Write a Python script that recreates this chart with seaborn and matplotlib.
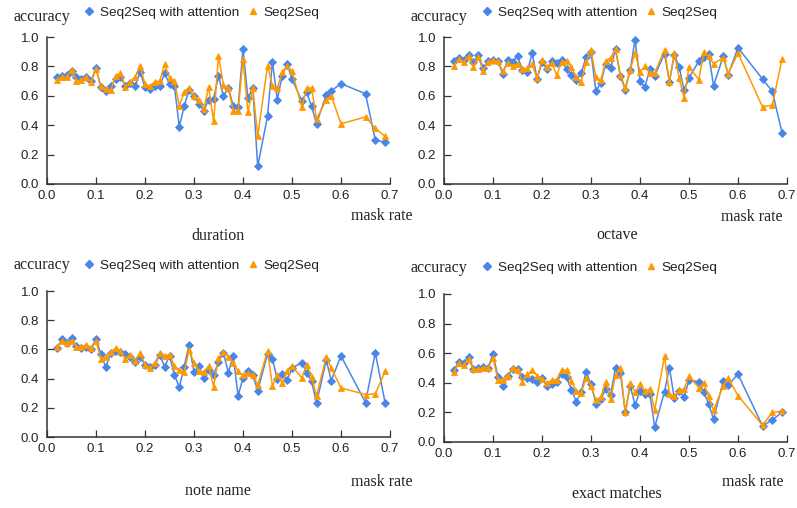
import matplotlib
matplotlib.use("Agg")
import matplotlib.pyplot as plt
from matplotlib.lines import Line2D
from matplotlib.ticker import FormatStrFormatter
import seaborn as sns
import pandas as pd

# ---------------- data ----------------
mask_rate = [0.02, 0.03, 0.04, 0.05, 0.06, 0.07, 0.08, 0.09, 0.10,
             0.11, 0.12, 0.13, 0.14, 0.15, 0.16, 0.17, 0.18, 0.19, 0.20,
             0.21, 0.22, 0.23, 0.24, 0.25, 0.26, 0.27, 0.28, 0.29, 0.30,
             0.31, 0.32, 0.33, 0.34, 0.35, 0.36, 0.37, 0.38, 0.39, 0.40,
             0.41, 0.42, 0.43,
             0.45, 0.46, 0.47, 0.48, 0.49, 0.50,
             0.52, 0.53, 0.54, 0.55,
             0.57, 0.58, 0.60, 0.65, 0.67, 0.69]

series_names = ["Seq2Seq with attention", "Seq2Seq"]
panel_titles = ["duration", "octave", "note name", "exact matches"]

duration_att = [0.728, 0.737, 0.74, 0.77, 0.728, 0.714, 0.728, 0.70, 0.787,
                0.66, 0.63, 0.665, 0.714, 0.73, 0.665, 0.69, 0.67, 0.76, 0.66,
                0.646, 0.665, 0.665, 0.755, 0.678, 0.665, 0.39, 0.53, 0.64, 0.60,
                0.545, 0.50, 0.574, 0.58, 0.737, 0.596, 0.655, 0.533, 0.524, 0.918,
                0.587, 0.653, 0.12,
                0.46, 0.832, 0.574, 0.737, 0.819, 0.714,
                0.565, 0.624, 0.528, 0.41,
                0.608, 0.633, 0.683, 0.614, 0.30, 0.283]
duration_s2s = [0.71, 0.728, 0.728, 0.777, 0.698, 0.71, 0.728, 0.694, 0.78,
                0.665, 0.646, 0.637, 0.737, 0.755, 0.66, 0.696, 0.728, 0.80, 0.68,
                0.665, 0.696, 0.70, 0.814, 0.723, 0.70, 0.533, 0.624, 0.65, 0.596,
                0.574, 0.51, 0.66, 0.426, 0.873, 0.673, 0.653, 0.497, 0.494, 0.85,
                0.488, 0.653, 0.324,
                0.805, 0.669, 0.653, 0.76, 0.80, 0.766,
                0.524, 0.653, 0.653, 0.442,
                0.574, 0.60, 0.41, 0.456, 0.379, 0.324]

octave_att = [0.834, 0.857, 0.846, 0.878, 0.828, 0.878, 0.787, 0.837, 0.841,
              0.837, 0.748, 0.846, 0.832, 0.868, 0.778, 0.764, 0.891, 0.714, 0.828,
              0.782, 0.837, 0.823, 0.841, 0.782, 0.741, 0.705, 0.755, 0.864, 0.896,
              0.633, 0.687, 0.816, 0.787, 0.918, 0.732, 0.642, 0.773, 0.982, 0.70,
              0.66, 0.782, 0.737,
              0.887, 0.696, 0.878, 0.796, 0.637, 0.723,
              0.834, 0.864, 0.887, 0.669,
              0.869, 0.744, 0.927, 0.714, 0.63, 0.347]
octave_s2s = [0.805, 0.85, 0.832, 0.868, 0.796, 0.864, 0.769, 0.832, 0.841,
              0.837, 0.766, 0.823, 0.805, 0.814, 0.782, 0.787, 0.814, 0.719, 0.846,
              0.796, 0.823, 0.741, 0.828, 0.834, 0.796, 0.728, 0.696, 0.828, 0.909,
              0.728, 0.705, 0.837, 0.859, 0.918, 0.744, 0.653, 0.778, 0.891, 0.764,
              0.80, 0.755, 0.755,
              0.914, 0.696, 0.891, 0.719, 0.583, 0.796,
              0.71, 0.896, 0.869, 0.819,
              0.859, 0.751, 0.891, 0.524, 0.537, 0.85]

note_att = [0.609, 0.668, 0.645, 0.677, 0.623, 0.609, 0.614, 0.605, 0.673,
            0.568, 0.477, 0.577, 0.591, 0.582, 0.568, 0.545, 0.514, 0.55, 0.491,
            0.477, 0.491, 0.564, 0.482, 0.555, 0.427, 0.341, 0.482, 0.632, 0.445,
            0.486, 0.405, 0.459, 0.427, 0.514, 0.577, 0.441, 0.555, 0.282, 0.405,
            0.45, 0.423, 0.318,
            0.568, 0.536, 0.395, 0.432, 0.391, 0.473,
            0.509, 0.441, 0.382, 0.232,
            0.527, 0.386, 0.555, 0.236, 0.577, 0.236]
note_s2s = [0.614, 0.659, 0.645, 0.659, 0.618, 0.614, 0.632, 0.609, 0.655,
            0.536, 0.55, 0.582, 0.609, 0.591, 0.536, 0.564, 0.523, 0.577, 0.495,
            0.473, 0.505, 0.573, 0.555, 0.564, 0.486, 0.459, 0.445, 0.595, 0.509,
            0.45, 0.445, 0.486, 0.345, 0.541, 0.582, 0.55, 0.505, 0.45, 0.423,
            0.436, 0.427, 0.355,
            0.591, 0.35, 0.423, 0.368, 0.45, 0.486,
            0.405, 0.495, 0.409, 0.282,
            0.55, 0.473, 0.336, 0.291, 0.295, 0.45]

exact_att = [0.485, 0.54, 0.531, 0.576, 0.494, 0.499, 0.508, 0.503, 0.594,
             0.44, 0.381, 0.444, 0.494, 0.49, 0.44, 0.435, 0.426, 0.408, 0.435,
             0.376, 0.39, 0.408, 0.458, 0.44, 0.354, 0.272, 0.34, 0.472, 0.39,
             0.259, 0.29, 0.358, 0.317, 0.503, 0.463, 0.20, 0.381, 0.249, 0.345,
             0.327, 0.327, 0.10,
             0.34, 0.503, 0.295, 0.345, 0.304, 0.417,
             0.408, 0.336, 0.259, 0.154,
             0.413, 0.385, 0.458, 0.109, 0.15, 0.20]
exact_s2s = [0.472, 0.531, 0.517, 0.558, 0.49, 0.49, 0.503, 0.503, 0.567,
             0.422, 0.422, 0.449, 0.503, 0.485, 0.408, 0.458, 0.485, 0.449, 0.426,
             0.399, 0.417, 0.422, 0.485, 0.485, 0.413, 0.345, 0.331, 0.435, 0.381,
             0.281, 0.304, 0.408, 0.29, 0.453, 0.499, 0.20, 0.399, 0.336, 0.39,
             0.345, 0.358, 0.218,
             0.58, 0.327, 0.313, 0.349, 0.358, 0.444,
             0.367, 0.399, 0.308, 0.213,
             0.381, 0.431, 0.313, 0.113, 0.20, 0.209]

x_ticks = [0.0, 0.1, 0.2, 0.3, 0.4, 0.5, 0.6, 0.7]
y_ticks = [0.0, 0.2, 0.4, 0.6, 0.8, 1.0]

# ---------------- style ----------------
sns.set_theme(style="ticks")
plt.rcParams["font.family"] = ["Liberation Sans", "DejaVu Sans"]
SERIF = ["Liberation Serif", "DejaVu Serif"]
BLUE = "#4a86e8"
ORANGE = "#ff9900"
AXCOL = "#333333"

W, H = 797, 508
fig = plt.figure(figsize=(W / 100, H / 100), dpi=100)


def fx(px):
    return px / W


def fy(py):
    return 1 - py / H


# panel boxes in pixels: left, right, top, bottom
boxes = [(47, 390, 37, 184), (444, 787, 37, 184),
         (47, 390, 291, 437), (444, 787, 294, 442)]
acc_pos = [(41.5, 17), (438.5, 17), (41.5, 265), (438.5, 268)]
mask_pos = [(381.5, 216), (752, 217), (381.5, 482), (752.5, 482)]
title_pos = [(218, 236), (617, 235), (218, 491), (617, 494)]
legend_pos = [(83.5, 13), (481.5, 13), (83.5, 266), (481.5, 268)]

panel_data = [(duration_att, duration_s2s), (octave_att, octave_s2s),
              (note_att, note_s2s), (exact_att, exact_s2s)]

for i, (att, s2s) in enumerate(panel_data):
    l, r, t, b = boxes[i]
    ax = fig.add_axes([fx(l), fy(b), fx(r) - fx(l), fy(t) - fy(b)])
    df = pd.DataFrame({"mask rate": mask_rate, "att": att, "s2s": s2s})
    sns.lineplot(data=df, x="mask rate", y="att", ax=ax, color=BLUE,
                 marker="D", markersize=4.2, markeredgewidth=0.6,
                 markeredgecolor=BLUE, linewidth=1.1, legend=False,
                 errorbar=None, clip_on=False)
    sns.lineplot(data=df, x="mask rate", y="s2s", ax=ax, color=ORANGE,
                 marker="^", markersize=4.5, markeredgewidth=0.6,
                 markeredgecolor=ORANGE, linewidth=1.1, legend=False,
                 errorbar=None, clip_on=False)
    ax.set_xlim(0, 0.7)
    ax.set_ylim(0, 1.0)
    ax.set_xticks(x_ticks)
    ax.set_yticks(y_ticks)
    ax.xaxis.set_major_formatter(FormatStrFormatter("%.1f"))
    ax.yaxis.set_major_formatter(FormatStrFormatter("%.1f"))
    ax.set_xlabel("")
    ax.set_ylabel("")
    for side in ["top", "right"]:
        ax.spines[side].set_visible(False)
    for side in ["left", "bottom"]:
        ax.spines[side].set_color(AXCOL)
        ax.spines[side].set_linewidth(1.1)
    ax.tick_params(direction="in", length=5, width=0.9, color=AXCOL,
                   labelsize=9.5, labelcolor="#222222")
    ax.tick_params(axis="x", pad=4.5)
    ax.tick_params(axis="y", pad=5.5)

    fig.text(fx(acc_pos[i][0]), fy(acc_pos[i][1]), "accuracy",
             family=SERIF, fontsize=11.5, ha="center", va="center",
             color="#222222")
    fig.text(fx(mask_pos[i][0]), fy(mask_pos[i][1]), "mask rate",
             family=SERIF, fontsize=11.5, ha="center", va="center",
             color="#222222")
    fig.text(fx(title_pos[i][0]), fy(title_pos[i][1]), panel_titles[i],
             family=SERIF, fontsize=11.5, ha="center", va="center",
             color="#222222")

    handles = [Line2D([], [], linestyle="none", marker="D", markersize=4.2,
                      color=BLUE),
               Line2D([], [], linestyle="none", marker="^", markersize=5,
                      color=ORANGE)]
    fig.legend(handles, series_names, loc="center left", ncol=2,
               bbox_to_anchor=(fx(legend_pos[i][0]), fy(legend_pos[i][1])),
               bbox_transform=fig.transFigure, frameon=False,
               fontsize=9.7, borderpad=0, borderaxespad=0,
               handlelength=0.8, handletextpad=0.4, columnspacing=0.65,
               labelcolor="#222222")

fig.savefig("out.png", dpi=100)
